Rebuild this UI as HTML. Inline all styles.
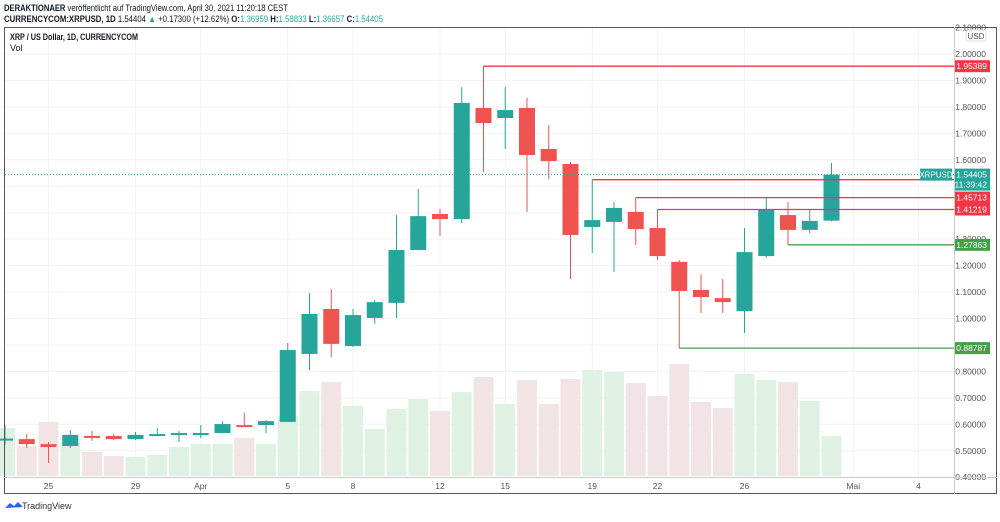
<!DOCTYPE html>
<html><head><meta charset="utf-8"><style>
body{margin:0;background:#fff;width:1000px;height:517px;overflow:hidden;font-family:"Liberation Sans",sans-serif}
svg text{font-family:"Liberation Sans",sans-serif}
</style></head><body>
<svg id="c" width="1000" height="517">
<text x="4" y="11" font-size="9" fill="#131722" textLength="284" lengthAdjust="spacingAndGlyphs"><tspan font-weight="bold">DERAKTIONAER</tspan> veröffentlicht auf TradingView.com, April 30, 2021 11:20:18 CEST</text>
<text x="4" y="22" font-size="9" fill="#131722" textLength="379" lengthAdjust="spacingAndGlyphs"><tspan font-weight="bold">CURRENCYCOM:XRPUSD, 1D</tspan> 1.54404 <tspan fill="#26a69a">▲</tspan> +0.17300 (+12.62%) <tspan font-weight="bold">O:</tspan><tspan fill="#26a69a">1.36959</tspan> <tspan font-weight="bold">H:</tspan><tspan fill="#26a69a">1.58833</tspan> <tspan font-weight="bold">L:</tspan><tspan fill="#26a69a">1.36657</tspan> <tspan font-weight="bold">C:</tspan><tspan fill="#26a69a">1.54405</tspan></text>
<g id="grid"></g><g id="vol"></g><g id="cand"></g><g id="lines"></g><g id="axis"></g>
<rect x="4.5" y="27.5" width="992" height="466" fill="none" stroke="#555" stroke-width="1"/>
<line x1="954.5" y1="27" x2="954.5" y2="494" stroke="#ccc"/>
<line x1="4" y1="477.5" x2="997" y2="477.5" stroke="#ccc"/>
<text x="10" y="40" font-size="9" font-weight="bold" fill="#131722" textLength="128" lengthAdjust="spacingAndGlyphs">XRP / US Dollar, 1D, CURRENCYCOM</text>
<text x="10" y="51" font-size="9" fill="#131722">Vol</text>
<rect x="966" y="30" width="20" height="11" rx="3" fill="#fff" stroke="#ddd"/>
<text x="976" y="39" font-size="8" fill="#555" text-anchor="middle">USD</text>
<g><path d="M5 508 l5 -5 4 3 4 -4 5 5 z" fill="#2962ff"/><text x="22" y="509" font-size="9" fill="#333">TradingView</text></g>
</svg>
<script>
const dates=["23","24","25","26","27","28","29","30","31","Apr1","2","3","4","5","6","7","8","9","10","11","12","13","14","15","16","17","18","19","20","21","22","23","24","25","26","27","28","29","30"];
const opens=[.543,.544,.525,.518,.556,.556,.544,.560,.560,.560,.567,.597,.597,.609,.866,1.036,.896,1.002,1.059,1.259,1.395,1.376,1.796,1.758,1.796,1.641,1.584,1.346,1.365,1.403,1.342,1.214,1.108,1.077,1.028,1.236,1.391,1.335,1.370];
const highs=[.597,.563,.533,.578,.575,.563,.571,.586,.575,.597,.612,.643,.616,.907,1.096,1.111,1.036,1.070,1.391,1.490,1.414,1.875,1.954,1.875,1.834,1.732,1.592,1.525,1.440,1.457,1.412,1.221,1.168,1.149,1.342,1.456,1.440,1.410,1.588];
const lows=[.522,.511,.454,.511,.537,.541,.541,.556,.533,.548,.567,.590,.567,.609,.805,.854,.892,.979,1.002,1.259,1.312,1.361,1.554,1.641,1.403,1.527,1.149,1.248,1.176,1.278,1.221,.888,1.021,1.021,.945,1.229,1.279,1.323,1.367];
const closes=[.546,.525,.514,.560,.552,.544,.560,.563,.567,.567,.601,.592,.612,.881,1.017,.904,1.013,1.062,1.259,1.387,1.376,1.815,1.739,1.788,1.618,1.595,1.316,1.372,1.418,1.338,1.236,1.104,1.081,1.062,1.251,1.414,1.335,1.369,1.544];
const volumes=[48,30,54,33,24,20,19,21,29,32,32,38,32,60,85,94,70,47,67,77,65,84,99,72,96,72,97,106,104,93,80,112,74,68,102,96,94,75,40];
const priceTicks=[2.1,2.0,1.9,1.8,1.7,1.6,1.5,1.4,1.3,1.2,1.1,1.0,0.9,0.8,0.7,0.6,0.5,0.4];
const timeLabels=["25","29","Apr","5","8","12","15","19","22","26","Mai","4"];
const timeIdx=[2,6,9,13,16,20,23,27,30,34,39,42];
const levels=[1.95389,1.52483,1.45713,1.41219,1.27863,0.88787];
const levelStart=[22,27,29,30,36,31];
const levelColor=["#f23645","#f23645","#f23645","#f23645","#43a047","#43a047"];
const lastPrice=1.54405;
const NS="http://www.w3.org/2000/svg";
const y=p=>54+(2-p)*264.5, x=i=>5+i*21.75, vy=v=>476-v;
function mk(g,t,a){const e=document.createElementNS(NS,t);for(const k in a)e.setAttribute(k,a[k]);document.getElementById(g).appendChild(e);return e;}
priceTicks.forEach(p=>{const l=mk('grid','line',{x1:5,x2:954,y1:y(p),y2:y(p),stroke:'#f0f3fa'});


if(y(p)>25&&y(p)<482){const t=mk('axis','text',{x:986,y:y(p)+3,'font-size':8.5,fill:'#555','text-anchor':'end'});t.textContent=p.toFixed(5);

}});
timeLabels.forEach((s,k)=>{const xx=x(timeIdx[k]);const l=mk('grid','line',{x1:xx,x2:xx,y1:28,y2:477,stroke:'#f0f3fa'});


const t=mk('axis','text',{x:xx,y:489,'font-size':8.5,fill:'#555','text-anchor':'middle'});t.textContent=s;

});
opens.forEach((o,i)=>{const up=closes[i]>=o,cx=x(i);
const v=mk('vol','rect',{x:cx-10,y:vy(volumes[i]),width:20,height:volumes[i],fill:up?'#dcefe0':'#f1e1e1',opacity:.9});


const col=up?'#26a69a':'#ef5350';
const w=mk('cand','line',{x1:cx,x2:cx,y1:y(highs[i]),y2:y(lows[i]),stroke:col,'stroke-width':1});


const t=Math.min(y(o),y(closes[i])),h=Math.max(2,Math.abs(y(o)-y(closes[i])));
const b=mk('cand','rect',{x:cx-8,y:t,width:16,height:h,fill:col});

});
const dl=mk('lines','line',{x1:5,x2:954,y1:y(lastPrice),y2:y(lastPrice),stroke:'#26a69a','stroke-dasharray':'1,2','stroke-width':1});


levels.forEach((p,k)=>{const l=mk('lines','line',{x1:x(levelStart[k]),x2:954,y1:y(p),y2:y(p),stroke:levelColor[k],'stroke-width':1.3});


const r=mk('axis','rect',{x:954,y:y(p)-6,width:36,height:12,fill:levelColor[k]});


const t=mk('axis','text',{x:987,y:y(p)+3,'font-size':8.5,fill:'#fff','text-anchor':'end'});t.textContent=p.toFixed(5);

});
const lr=mk('axis','rect',{x:954,y:y(lastPrice)-6,width:36,height:22,fill:'#26a69a'});


const lt=mk('axis','text',{x:987,y:y(lastPrice)+3,'font-size':8.5,fill:'#fff','text-anchor':'end'});lt.textContent=lastPrice.toFixed(5);


const lt2=mk('axis','text',{x:987,y:y(lastPrice)+13,'font-size':8.5,fill:'#fff','text-anchor':'end'});lt2.textContent='11:39:42';


const sr=mk('axis','rect',{x:920,y:y(lastPrice)-6,width:32,height:12,fill:'#26a69a'});


const st=mk('axis','text',{x:936,y:y(lastPrice)+3,'font-size':8,fill:'#fff','text-anchor':'middle'});st.textContent='XRPUSD';


</script>
</body></html>
